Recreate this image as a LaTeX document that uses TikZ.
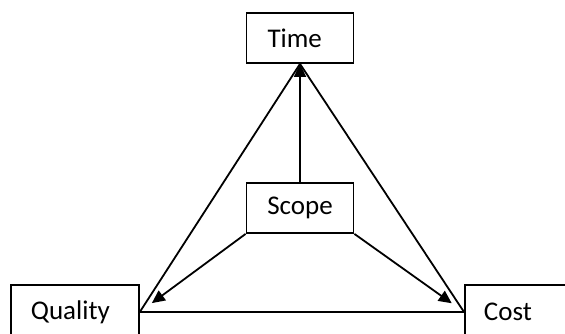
\documentclass[tikz,border=0pt]{standalone}
\usepackage{fontspec}
\setmainfont{Carlito}
\usetikzlibrary{arrows.meta}
\begin{document}
\begin{tikzpicture}[x=1pt,y=-1pt,
  box/.style={draw, line width=1.8pt, inner sep=0pt, font=\fontsize{27}{31}\selectfont},
  conn/.style={line width=1.8pt},
  tip/.style={-{Triangle[length=13pt,width=12pt]}}]
\useasboundingbox (0,0) rectangle (565,334);
\clip (0,0) rectangle (565,334);
\fill[white] (0,0) rectangle (565,334);
\node[box, minimum height=50pt, text width=65pt, align=left, inner xsep=21pt] (time) at (300,38) {Time};
\node[box, minimum width=107pt, minimum height=50pt] (scope) at (300,208) {Scope};
\node[box, anchor=west, minimum height=54pt, text width=88pt, align=left, inner xsep=20pt] (quality) at (10,312) {Quality};
\node[box, anchor=west, minimum height=54pt, text width=110pt, align=left, inner xsep=19pt] (cost) at (464,312) {Cost};
\draw[conn] (quality.east) -- (cost.west);
\draw[conn] (quality.east) -- (time.south);
\draw[conn] (cost.west) -- (time.south);
\draw[conn, tip] (scope.north) -- (time.south);
\draw[conn, tip, shorten >=15pt] (scope.south west) -- (quality.east);
\draw[conn, tip, shorten >=15pt] (scope.south east) -- (cost.west);
\end{tikzpicture}
\end{document}
